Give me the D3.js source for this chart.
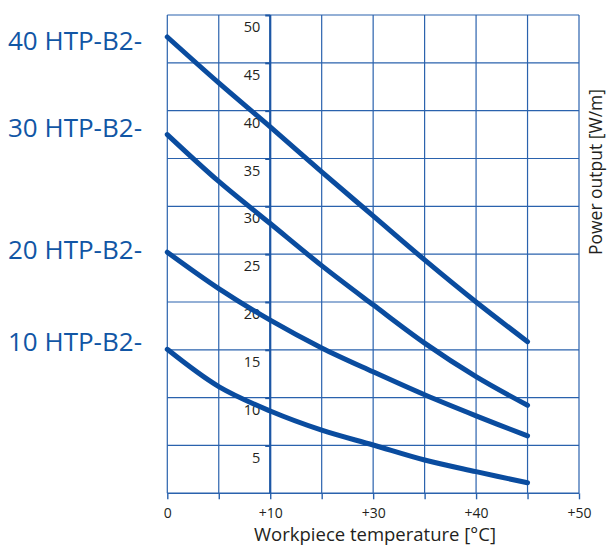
<!DOCTYPE html>
<html>
<head>
<meta charset="utf-8">
<script src="https://cdn.jsdelivr.net/npm/d3@7"></script>
<style>
body { margin: 0; background: #fff; }
text { font-family: "Open Sans", sans-serif; }
</style>
</head>
<body>
<svg id="chart" width="608" height="546"></svg>
<script>
// axis positions along x (the printed scale has equal steps labelled 0,+10,+30,+40,+50)
var temps = [0, 5, 10, 15, 20, 25, 30, 35];
var xTickValues = [0, 10, 20, 30, 40];
var xTickLabels = ["0", "+10", "+30", "+40", "+50"];
var yTickValues = [5, 10, 15, 20, 25, 30, 35, 40, 45, 50];

var seriesNames = ["40 HTP-B2-", "30 HTP-B2-", "20 HTP-B2-", "10 HTP-B2-"];
var power40 = [47.7, 42.9, 38.3, 33.6, 29.0, 24.4, 20.0, 15.85];
var power30 = [37.5, 32.6, 28.2, 23.8, 19.7, 15.7, 12.2, 9.2];
var power20 = [25.2, 21.4, 18.1, 15.2, 12.7, 10.3, 8.1, 6.0];
var power10 = [15.05, 11.15, 8.6, 6.6, 5.05, 3.48, 2.26, 1.1];
var seriesValues = [power40, power30, power20, power10];

var GRID = "#2a62ad";
var CURVE = "#0a4c9f";
var LABEL = "#1156a5";
var INK = "#231f20";

var svg = d3.select("#chart");

var x = d3.scaleLinear().domain([0, 40]).range([167.3, 579]);
var y = d3.scaleLinear().domain([0, 50]).range([493.3, 15]);

var grid = svg.append("g").attr("class", "grid");

// vertical grid lines every 5
grid.selectAll("line.v").data(d3.range(0, 41, 5)).enter().append("line") //
.attr("class", "v") //
.attr("x1", function(d) { return x(d); }) //
.attr("x2", function(d) { return x(d); }) //
.attr("y1", y(50)) //
.attr("y2", y(0)) //
.attr("stroke", GRID) //
.attr("stroke-width", 1.2);

// horizontal grid lines
grid.selectAll("line.h").data(d3.range(5, 51, 5)).enter().append("line") //
.attr("class", "h") //
.attr("x1", x(0)) //
.attr("x2", x(40)) //
.attr("y1", function(d) { return y(d); }) //
.attr("y2", function(d) { return y(d); }) //
.attr("stroke", GRID) //
.attr("stroke-width", 1.2);

// x axis at the bottom
var xAxis = d3.axisBottom(x).tickValues(d3.range(0, 41, 5)).tickSize(6).tickFormat(function(d) {
	var i = xTickValues.indexOf(d);
	return i < 0 ? "" : xTickLabels[i];
});
var gx = svg.append("g").attr("transform", "translate(0," + y(0) + ")").call(xAxis);
gx.select(".domain").attr("stroke", GRID).attr("stroke-width", 1.6).attr("d", "M" + x(0) + ",0H" + x(40));
gx.selectAll(".tick line").attr("stroke", GRID).attr("stroke-width", 1.4);
gx.selectAll(".tick text").attr("fill", INK).attr("font-size", 14).attr("dy", "1.12em");

// y axis sits on the +10 line
var yAxis = d3.axisLeft(y).tickValues(yTickValues).tickSize(5).tickPadding(5);
var gy = svg.append("g").attr("transform", "translate(" + x(10) + ",0)").call(yAxis);
gy.select(".domain").attr("stroke", "#1d57a5").attr("stroke-width", 2.2).attr("d", "M0," + y(50) + "V" + y(0));
gy.selectAll(".tick line").attr("stroke", "#1d57a5").attr("stroke-width", 2);
gy.selectAll(".tick text").attr("fill", INK).attr("font-size", 14.5).attr("dy", "1.15em");

// curves
var line = d3.line() //
.x(function(d, i) { return x(temps[i]); }) //
.y(function(d) { return y(d); }) //
.curve(d3.curveCatmullRom.alpha(0.5));

svg.selectAll("path.curve").data(seriesValues).enter().append("path") //
.attr("class", "curve") //
.attr("d", line) //
.attr("fill", "none") //
.attr("stroke", CURVE) //
.attr("stroke-width", 5) //
.attr("stroke-linecap", "round");

// type labels next to the curve starts
var labelShift = [3.5, -6.5, -2.5, -7.5];
svg.selectAll("text.series").data(seriesNames).enter().append("text") //
.attr("class", "series") //
.attr("x", 142) //
.attr("y", function(d, i) { return y(seriesValues[i][0]) + labelShift[i]; }) //
.attr("dy", "0.36em") //
.attr("text-anchor", "end") //
.attr("fill", LABEL) //
.attr("font-size", 26) //
.text(function(d) { return d; });

// axis titles
svg.append("text") //
.attr("x", 375) //
.attr("y", 541) //
.attr("text-anchor", "middle") //
.attr("fill", INK) //
.attr("font-size", 18.5) //
.text("Workpiece temperature [°C]");

svg.append("text") //
.attr("transform", "translate(602,172) rotate(-90)") //
.attr("text-anchor", "middle") //
.attr("fill", INK) //
.attr("font-size", 17.5) //
.text("Power output [W/m]");
</script>
</body>
</html>
